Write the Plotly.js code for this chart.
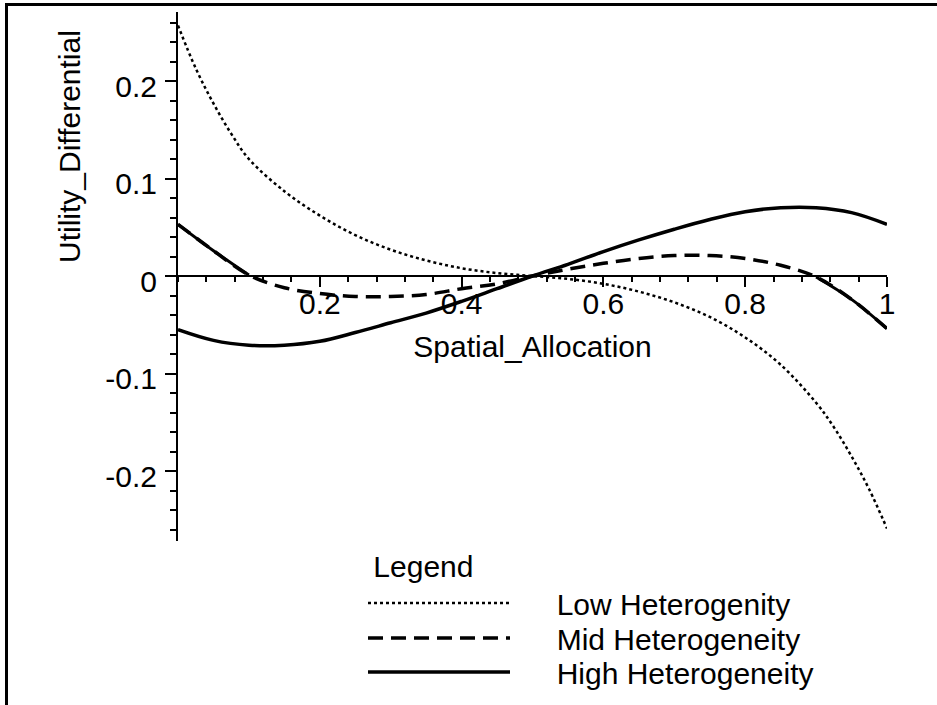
<!DOCTYPE html>
<html><head><meta charset="utf-8">
<script src="https://cdn.plot.ly/plotly-3.0.1.min.js"></script>
<style>
html,body{margin:0;padding:0;background:#fff;overflow:hidden;}
#chart{width:937px;height:705px;}
#frame{position:absolute;left:5px;top:3px;width:950px;height:720px;border-top:3px solid #000;border-left:3px solid #000;pointer-events:none;}
</style></head>
<body><div id="chart"></div><div id="frame"></div>
<script>
// ---- data ----
const xLow  = [0, 0.025, 0.05, 0.075, 0.1, 0.15, 0.2, 0.25, 0.3, 0.35, 0.4, 0.45, 0.5, 0.55, 0.6, 0.65, 0.7, 0.75, 0.8, 0.85, 0.9, 0.925, 0.95, 0.975, 1];
const yLow  = [0.257, 0.213, 0.177, 0.146, 0.12, 0.087, 0.062, 0.042, 0.027, 0.016, 0.008, 0.003, 0, -0.003, -0.008, -0.016, -0.027, -0.042, -0.063, -0.091, -0.130, -0.155, -0.185, -0.219, -0.259];
const xMid  = [0, 0.05, 0.1, 0.15, 0.2, 0.25, 0.3, 0.35, 0.4, 0.45, 0.5, 0.55, 0.6, 0.65, 0.7, 0.75, 0.8, 0.85, 0.9, 0.95, 1];
const yMid  = [0.053, 0.026, 0.001, -0.012, -0.018, -0.021, -0.021, -0.019, -0.013, -0.008, 0, 0.007, 0.013, 0.018, 0.021, 0.021, 0.018, 0.011, -0.001, -0.024, -0.054];
const xHigh = [0, 0.05, 0.1, 0.15, 0.2, 0.25, 0.3, 0.35, 0.4, 0.45, 0.5, 0.55, 0.6, 0.65, 0.7, 0.75, 0.8, 0.85, 0.9, 0.95, 1];
const yHigh = [-0.055, -0.066, -0.071, -0.071, -0.067, -0.058, -0.048, -0.038, -0.026, -0.013, 0, 0.012, 0.025, 0.037, 0.048, 0.058, 0.066, 0.070, 0.070, 0.065, 0.053];
const seriesNames = ['Low Heterogenity', 'Mid Heterogeneity', 'High Heterogeneity'];
const xTickVals = [0.2, 0.4, 0.6, 0.8, 1];
const xTickText = ['0.2', '0.4', '0.6', '0.8', '1'];
const yTickVals = [-0.2, -0.1, 0, 0.1, 0.2];
const yTickText = ['-0.2', '-0.1', '0', '0.1', '0.2'];
const xTitle = 'Spatial_Allocation';
const yTitle = 'Utility_Differential';
const legendTitle = 'Legend';

// ---- layout ----
const FONT = 'Liberation Sans, Arial, sans-serif';
const yMin = -0.2718, yMax = 0.2708;
const pad = '\u00a0\u00a0\u00a0\u00a0\u00a0';

const traces = [
  {x: xLow, y: yLow, name: pad + seriesNames[0], mode: 'lines', line: {color: '#000', width: 2.5, dash: '3px,3px', shape: 'spline'}, legend: 'legend'},
  {x: xMid, y: yMid, name: pad + seriesNames[1], mode: 'lines', line: {color: '#000', width: 3.5, dash: '15px,8px', shape: 'spline'}, legend: 'legend2'},
  {x: xMid.slice(0, 3), y: yMid.slice(0, 3), mode: 'lines', showlegend: false, line: {color: '#000', width: 3, shape: 'spline'}},
  {x: xMid.slice(-3), y: yMid.slice(-3), mode: 'lines', showlegend: false, line: {color: '#000', width: 3, shape: 'spline'}},
  {x: xHigh, y: yHigh, name: pad + seriesNames[2], mode: 'lines', line: {color: '#000', width: 3.5, shape: 'spline'}, legend: 'legend3'}
];

const tf = {family: FONT, size: 30, color: '#000'};
const legBase = {x: (363 - 178) / 709, xanchor: 'left', yanchor: 'middle', bgcolor: 'rgba(0,0,0,0)', borderwidth: 0, itemwidth: 142, font: tf};

const layout = {
  width: 937, height: 705,
  margin: {l: 178, r: 50, t: 12, b: 164, pad: 0, autoexpand: false},
  paper_bgcolor: '#fff', plot_bgcolor: '#fff',
  font: tf,
  showlegend: true,
  xaxis: {
    range: [0, 1], anchor: 'free', position: (0 - yMin) / (yMax - yMin),
    showline: true, linewidth: 2, linecolor: '#000', zeroline: false, showgrid: false,
    ticks: 'outside', ticklen: 10, tickwidth: 2, tickcolor: '#000',
    tickmode: 'array', tickvals: xTickVals, ticktext: xTickText, tickfont: tf,
    ticklabelstandoff: -9,
    minor: {ticks: 'outside', dtick: 0.04, tick0: 0, ticklen: 5, tickwidth: 2, tickcolor: '#000', showgrid: false},
    title: {text: xTitle, font: tf, standoff: 16}
  },
  yaxis: {
    range: [yMin, yMax],
    showline: true, linewidth: 2, linecolor: '#000', zeroline: false, showgrid: false,
    ticks: 'outside', ticklen: 11, tickwidth: 2, tickcolor: '#000',
    tickmode: 'array', tickvals: yTickVals, ticktext: yTickText, tickfont: tf,
    ticklabelshift: 5, ticklabelstandoff: 2,
    minor: {ticks: 'outside', dtick: 0.02, tick0: 0, ticklen: 6, tickwidth: 2, tickcolor: '#000', showgrid: false}
  },
  legend: Object.assign({}, legBase, {y: (541 - 629) / 529, yanchor: 'bottom', title: {text: '\u00a0' + legendTitle, font: tf}}),
  legend2: Object.assign({}, legBase, {y: (541 - 638) / 529}),
  legend3: Object.assign({}, legBase, {y: (541 - 672) / 529}),
  annotations: [
    {text: yTitle, textangle: -90, xref: 'paper', yref: 'paper', x: (69 - 178) / 709, y: (541 - 146) / 529,
     xanchor: 'center', yanchor: 'middle', showarrow: false, font: tf}
  ]
};

Plotly.newPlot('chart', traces, layout, {displayModeBar: false, staticPlot: true});
</script></body></html>
